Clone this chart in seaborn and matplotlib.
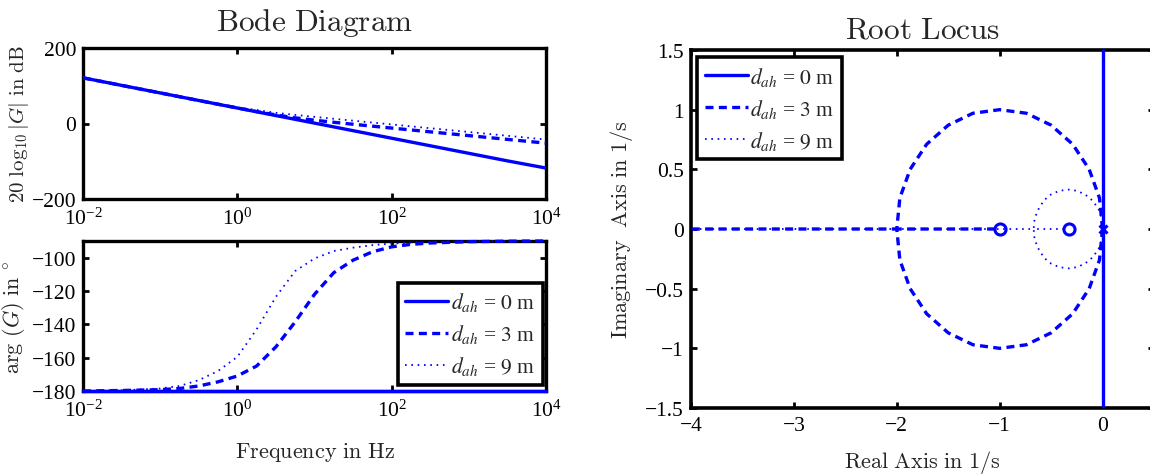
import numpy as np
import pandas as pd
import matplotlib
matplotlib.use("Agg")
import matplotlib.pyplot as plt
from matplotlib.ticker import NullLocator, FixedLocator, FixedFormatter
import seaborn as sns

# ---------------- data ----------------
SERIES_LABELS = [r"$d_{ah}$ = $\mathit{0}$ m", r"$d_{ah}$ = $\mathit{3}$ m", r"$d_{ah}$ = $\mathit{9}$ m"]

# Bode: frequency given as decade exponent (f = 10**exp Hz)
FREQ_EXP = [-2, -1.5, -1, -0.75, -0.5, -0.25, 0, 0.25, 0.5, 0.75, 1, 1.25,
            1.5, 1.75, 2, 2.25, 2.5, 3, 3.5, 4]
MAG_D0 = [121, 101, 81, 71, 61, 51, 41, 31, 21, 11, 1, -9,
          -19, -29, -39, -49, -59, -79, -99, -118]
MAG_D3 = [121, 101, 81, 71, 61, 51.1, 41.2, 31.6, 22.7, 15, 8.7, 3.2,
          -2, -7, -12.1, -17.1, -22.1, -32.1, -42.1, -52]
MAG_D9 = [121, 101, 81.1, 71.1, 61.2, 51.6, 42.6, 35.8, 28.3, 22.8, 17.6, 12.5,
          7.5, 2.5, -2.5, -7.5, -12.5, -22.5, -32.5, -42.5]
PHASE_D0 = [-180] * 20
PHASE_D3 = [-180, -179.7, -179.2, -178.5, -177, -174.5, -171, -165, -153.5, -138.5, -122, -109,
            -101.5, -96.5, -93.5, -92, -91.2, -90.4, -90.1, -90]
PHASE_D9 = [-180, -179.6, -178.5, -177, -173.5, -168, -159.5, -143, -123.5, -108, -100.5, -96,
            -94, -92.5, -91.5, -91, -90.6, -90.2, -90.1, -90]

# Root locus branches (real, imaginary) in 1/s
RL0_X = [0, 0]
RL0_Y = [-1.6, 1.6]
RL3_UP_X = [0, -0.03, -0.13, -0.29, -0.5, -0.74, -1, -1.26, -1.5, -1.71, -1.87, -1.97, -2, -4.5]
RL3_UP_Y = [0, 0.26, 0.5, 0.71, 0.87, 0.97, 1, 0.97, 0.87, 0.71, 0.5, 0.26, 0, 0]
RL3_LO_X = [0, -0.03, -0.13, -0.29, -0.5, -0.74, -1, -1.26, -1.5, -1.71, -1.87, -1.97, -2, -1]
RL3_LO_Y = [0, -0.26, -0.5, -0.71, -0.87, -0.97, -1, -0.97, -0.87, -0.71, -0.5, -0.26, 0, 0]
RL9_UP_X = [0, -0.01, -0.04, -0.10, -0.17, -0.25, -0.33, -0.42, -0.5, -0.57, -0.62, -0.66, -0.67, -4.5]
RL9_UP_Y = [0, 0.09, 0.17, 0.24, 0.29, 0.32, 0.33, 0.32, 0.29, 0.24, 0.17, 0.09, 0, 0]
RL9_LO_X = [0, -0.01, -0.04, -0.10, -0.17, -0.25, -0.33, -0.42, -0.5, -0.57, -0.62, -0.66, -0.67, -0.33]
RL9_LO_Y = [0, -0.09, -0.17, -0.24, -0.29, -0.32, -0.33, -0.32, -0.29, -0.24, -0.17, -0.09, 0, 0]
ZEROS_X = [-1, -0.33]
ZEROS_Y = [0, 0]
POLES_X = [0]
POLES_Y = [0]

# ---------------- style ----------------
sns.set_theme(style="white")
plt.rcParams["font.family"] = ["Liberation Serif", "DejaVu Serif"]
plt.rcParams["mathtext.fontset"] = "cm"
plt.rcParams["axes.unicode_minus"] = True

BLUE = "#0000ff"
LW = 2.4
DASH = (2.4, 1.6)
DOT = (0.9, 2.6)
STYLES = [dict(lw=LW, dashes=None), dict(lw=LW, dashes=DASH), dict(lw=1.3, dashes=DOT)]
TICK_FS = 15.5

W, H = 1150, 477
fig = plt.figure(figsize=(W / 100, H / 100), dpi=100)
fig.patch.set_facecolor("white")


def rect(l, t, r, b):
    return [l / W, 1 - b / H, (r - l) / W, (b - t) / H]


ax_mag = fig.add_axes(rect(83, 49, 546, 200))
ax_ph = fig.add_axes(rect(83, 242, 546, 392))
ax_rl = fig.add_axes(rect(691, 51, 1154, 409))

freq = [10.0 ** e for e in FREQ_EXP]


def draw(ax, x, y, k, label=None, clip=True):
    st = STYLES[k]
    df = pd.DataFrame({"x": x, "y": y})
    n0 = len(ax.get_lines())
    sns.lineplot(data=df, x="x", y="y", ax=ax, color=BLUE, lw=st["lw"],
                 sort=False, estimator=None, label=label, legend=False)
    line = ax.get_lines()[n0]
    if st["dashes"] is not None:
        line.set_dashes(st["dashes"])
    line.set_clip_on(clip)
    line.set_zorder(3)
    if label is None:
        line.set_label("_nolegend_")
    return line


# magnitude
for k, mag in enumerate([MAG_D0, MAG_D3, MAG_D9]):
    draw(ax_mag, freq, mag, k)
# phase
ph_lines = []
for k, ph in enumerate([PHASE_D0, PHASE_D3, PHASE_D9]):
    ph_lines.append(draw(ax_ph, freq, ph, k, label=SERIES_LABELS[k], clip=False))

for ax in (ax_mag, ax_ph):
    ax.set_xscale("log")
    ax.set_xlim(1e-2, 1e4)
    ax.xaxis.set_major_locator(FixedLocator([1e-2, 1e0, 1e2, 1e4]))
    ax.xaxis.set_minor_locator(NullLocator())
    ax.set_xlabel("")
    ax.set_ylabel("")

ax_mag.set_ylim(-200, 200)
ax_mag.set_yticks([-200, 0, 200])
ax_ph.set_ylim(-180, -90)
ax_ph.set_yticks([-180, -160, -140, -120, -100])

# root locus
rl_lines = []
rl_lines.append(draw(ax_rl, RL0_X, RL0_Y, 0, label=SERIES_LABELS[0]))
rl_lines.append(draw(ax_rl, RL3_UP_X, RL3_UP_Y, 1, label=SERIES_LABELS[1]))
draw(ax_rl, RL3_LO_X, RL3_LO_Y, 1)
rl_lines.append(draw(ax_rl, RL9_UP_X, RL9_UP_Y, 2, label=SERIES_LABELS[2]))
draw(ax_rl, RL9_LO_X, RL9_LO_Y, 2)
ax_rl.plot(ZEROS_X, ZEROS_Y, ls="none", marker="o", ms=8, mew=2.2, mfc="none", mec=BLUE, zorder=4)
ax_rl.plot(POLES_X, POLES_Y, ls="none", marker="x", ms=6, mew=2.2, color=BLUE, zorder=4)
ax_rl.set_xlim(-4, 0.5)
ax_rl.set_ylim(-1.5, 1.5)
ax_rl.xaxis.set_major_locator(FixedLocator([-4, -3, -2, -1, 0]))
ax_rl.xaxis.set_major_formatter(FixedFormatter(["\u22124", "\u22123", "\u22122", "\u22121", "0"]))
ax_rl.yaxis.set_major_locator(FixedLocator([-1.5, -1, -0.5, 0, 0.5, 1, 1.5]))
ax_rl.yaxis.set_major_formatter(FixedFormatter(["\u22121.5", "\u22121", "\u22120.5", "0", "0.5", "1", "1.5"]))

for ax, slw in ((ax_mag, 2.4), (ax_ph, 2.4), (ax_rl, 2.6)):
    for sp in ax.spines.values():
        sp.set_visible(True)
        sp.set_color("black")
        sp.set_linewidth(slw)
        sp.set_zorder(2.5)
    ax.tick_params(axis="both", which="both", direction="in", length=4, width=2,
                   top=True, right=True, bottom=True, left=True,
                   labelsize=TICK_FS, colors="black")
    ax.tick_params(axis="x", pad=6)
    ax.tick_params(axis="y", pad=5)
    ax.set_facecolor("white")
    ax.grid(False)

# titles and labels (Computer Modern through mathtext)
ax_mag.set_title(r"$\mathrm{Bode\ Diagram}$", fontsize=22.5, pad=13)
ax_rl.set_title(r"$\mathrm{Root\ Locus}$", fontsize=22.5, pad=9)
ax_mag.set_ylabel(r"$20\ \log_{10}|G|\ \mathrm{in\ dB}$", fontsize=15)
ax_mag.yaxis.set_label_coords(-0.112, 0.5)
ax_ph.set_ylabel(r"$\arg\,(G)\ \mathrm{in}\ {}^{\circ}$", fontsize=16)
ax_ph.yaxis.set_label_coords(-0.12, 0.5)
ax_ph.set_xlabel(r"$\mathrm{Frequency\ in\ Hz}$", fontsize=16)
ax_ph.xaxis.set_label_coords(0.5, -0.33)
ax_rl.set_ylabel(r"$\mathrm{Imaginary\ \ Axis\ in\ 1/s}$", fontsize=16)
ax_rl.yaxis.set_label_coords(-0.12, 0.5)
ax_rl.set_xlabel(r"$\mathrm{Real\ Axis\ in\ 1/s}$", fontsize=16)
ax_rl.xaxis.set_label_coords(0.5, -0.112)


def legend(ax, handles, loc, anchor):
    leg = ax.legend(handles=handles, labels=SERIES_LABELS, loc=loc, bbox_to_anchor=anchor,
                    borderaxespad=0, fontsize=15.5, frameon=True, fancybox=False,
                    framealpha=1, edgecolor="black", handlelength=2.0,
                    handletextpad=0.12, labelspacing=0.42, borderpad=0.35)
    leg.get_frame().set_linewidth(2.6)
    for t in leg.get_texts():
        t.set_math_fontfamily("stix")
    leg.set_zorder(5)
    return leg


legend(ax_ph, ph_lines, "lower right", (0.9927, 0.04))
legend(ax_rl, rl_lines, "upper left", (0.0136, 0.98))

fig.savefig("out.png", dpi=100, facecolor="white")
